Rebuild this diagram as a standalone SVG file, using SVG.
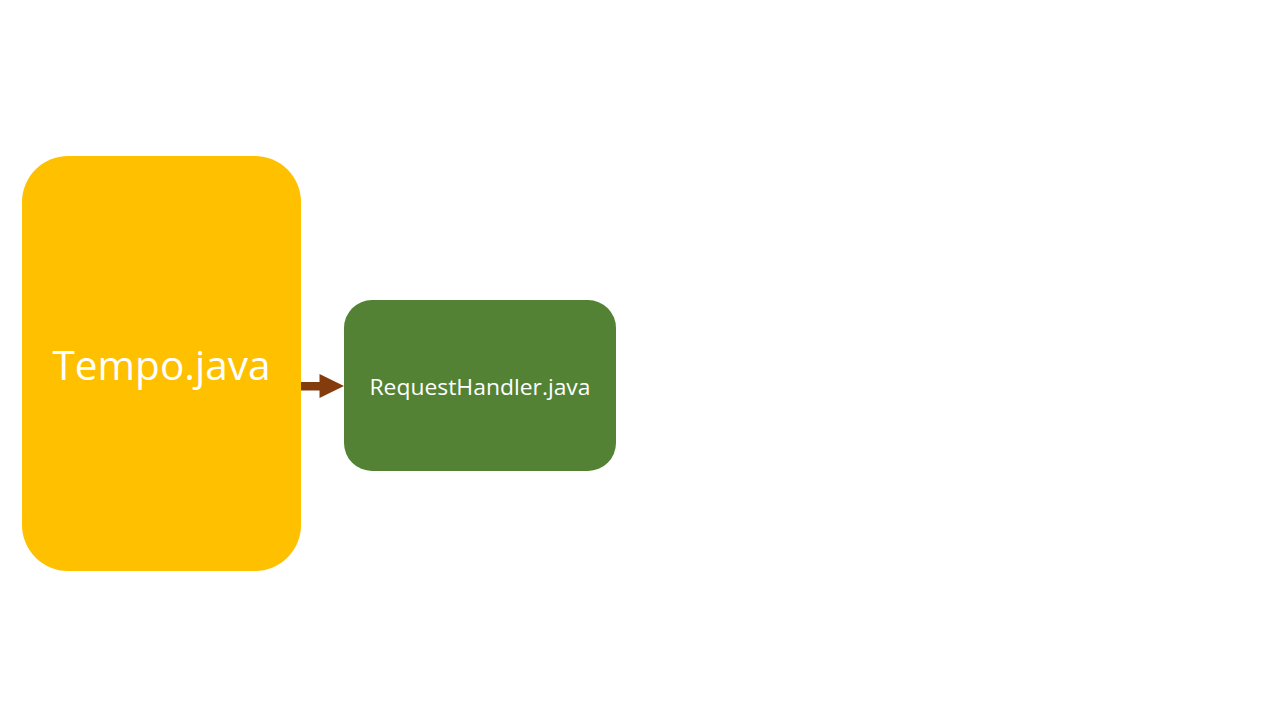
<svg xmlns="http://www.w3.org/2000/svg" width="1280" height="720" viewBox="0 0 1280 720">
<style>
.lbl{fill:#ffffff;font-family:"Open Sans","Liberation Sans",sans-serif;text-anchor:middle;dominant-baseline:central}
</style>
<rect width="1280" height="720" fill="#ffffff"/>
<g id="connectors">
<rect x="301" y="382" width="20" height="8.5" fill="#843C0C"/>
<polygon points="319.5,374 344,386 319.5,398" fill="#843C0C"/>
</g>
<g id="tempo">
<rect x="22" y="156" width="279" height="415" rx="46" ry="46" fill="#FFC000"/>
<text class="lbl" x="161.5" y="364" font-size="41" textLength="218" lengthAdjust="spacingAndGlyphs">Tempo.java</text>
</g>
<g id="requesthandler">
<rect x="344" y="300" width="272" height="171" rx="28" ry="28" fill="#548235"/>
<text class="lbl" x="480" y="386" font-size="22" textLength="221" lengthAdjust="spacingAndGlyphs">RequestHandler.java</text>
</g>
</svg>
